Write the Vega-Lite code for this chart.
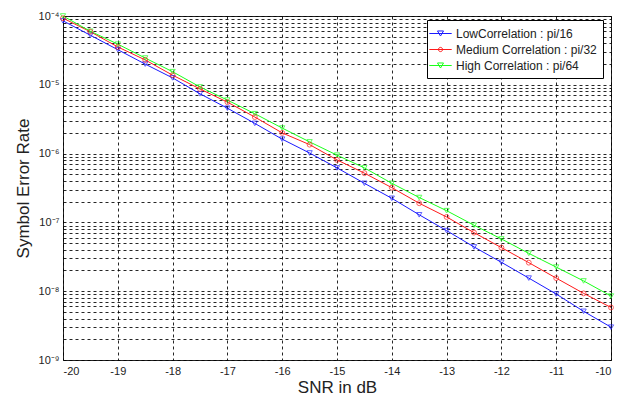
{
  "$schema": "https://vega.github.io/schema/vega-lite/v6.json",
  "width": 548,
  "height": 344,
  "autosize": "none",
  "padding": {"left": 63, "top": 16, "right": 16, "bottom": 36},
  "background": "white",
  "config": {
    "view": {"stroke": "#222", "strokeWidth": 1},
    "axis": {
      "labelFont": "Liberation Sans", "titleFont": "Liberation Sans",
      "labelFontSize": 11, "titleFontSize": 17, "titleFontWeight": "normal",
      "labelColor": "#222", "titleColor": "#222",
      "grid": true, "gridColor": "#000", "gridDash": [3, 3], "gridWidth": 1, "gridOpacity": 0.85,
      "ticks": false, "domain": false, "labelOverlap": false
    }
  },
  "data": {"values": [
    {"snr": -20, "low": 8.5e-5, "med": 9.3e-5, "high": 1.0e-4},
    {"snr": -19.5, "low": 5.25e-5, "med": 5.9e-5, "high": 6.0e-5},
    {"snr": -19, "low": 3.24e-5, "med": 3.55e-5, "high": 3.9e-5},
    {"snr": -18.5, "low": 2.0e-5, "med": 2.3e-5, "high": 2.45e-5},
    {"snr": -18, "low": 1.26e-5, "med": 1.38e-5, "high": 1.55e-5},
    {"snr": -17.5, "low": 7.4e-6, "med": 8.7e-6, "high": 9.3e-6},
    {"snr": -17, "low": 4.57e-6, "med": 5.6e-6, "high": 6.0e-6},
    {"snr": -16.5, "low": 2.75e-6, "med": 3.4e-6, "high": 3.8e-6},
    {"snr": -16, "low": 1.62e-6, "med": 2.0e-6, "high": 2.35e-6},
    {"snr": -15.5, "low": 1.02e-6, "med": 1.35e-6, "high": 1.48e-6},
    {"snr": -15, "low": 6.2e-7, "med": 8.1e-7, "high": 9.5e-7},
    {"snr": -14.5, "low": 3.7e-7, "med": 5.2e-7, "high": 6.2e-7},
    {"snr": -14, "low": 2.24e-7, "med": 3.2e-7, "high": 3.7e-7},
    {"snr": -13.5, "low": 1.29e-7, "med": 1.9e-7, "high": 2.3e-7},
    {"snr": -13, "low": 7.6e-8, "med": 1.2e-7, "high": 1.48e-7},
    {"snr": -12.5, "low": 4.4e-8, "med": 7.1e-8, "high": 9.1e-8},
    {"snr": -12, "low": 2.63e-8, "med": 4.3e-8, "high": 5.75e-8},
    {"snr": -11.5, "low": 1.55e-8, "med": 2.6e-8, "high": 3.55e-8},
    {"snr": -11, "low": 9.1e-9, "med": 1.55e-8, "high": 2.24e-8},
    {"snr": -10.5, "low": 5.1e-9, "med": 9.3e-9, "high": 1.41e-8},
    {"snr": -10, "low": 3.0e-9, "med": 5.8e-9, "high": 8.5e-9}
  ]},
  "transform": [{"fold": ["low", "med", "high"], "as": ["series", "ser"]}],
  "layer": [
    {
      "mark": {"type": "line", "strokeWidth": 1, "clip": true},
      "encoding": {
        "x": {"field": "snr", "type": "quantitative",
          "scale": {"domain": [-20, -10], "nice": false, "zero": false},
          "axis": {"values": [-20, -19, -18, -17, -16, -15, -14, -13, -12, -11, -10],
            "title": "SNR in dB", "labelExpr": "'' + datum.value", "labelPadding": 5, "titlePadding": 3}},
        "y": {"field": "ser", "type": "quantitative",
          "scale": {"type": "log", "domain": [1e-9, 1e-4], "nice": false},
          "axis": {"values": [1e-9, 2e-9, 3e-9, 4e-9, 5e-9, 6e-9, 7e-9, 8e-9, 9e-9,
              1e-8, 2e-8, 3e-8, 4e-8, 5e-8, 6e-8, 7e-8, 8e-8, 9e-8,
              1e-7, 2e-7, 3e-7, 4e-7, 5e-7, 6e-7, 7e-7, 8e-7, 9e-7,
              1e-6, 2e-6, 3e-6, 4e-6, 5e-6, 6e-6, 7e-6, 8e-6, 9e-6,
              1e-5, 2e-5, 3e-5, 4e-5, 5e-5, 6e-5, 7e-5, 8e-5, 9e-5, 1e-4],
            "title": "Symbol Error Rate", "titlePadding": 6, "labelPadding": 4,
            "labelExpr": "abs(log(datum.value)/LN10 - round(log(datum.value)/LN10)) < 0.01 ? ['10⁻⁹','10⁻⁸','10⁻⁷','10⁻⁶','10⁻⁵','10⁻⁴'][round(log(datum.value)/LN10)+9] : ''"}},
        "color": {"field": "series", "type": "nominal",
          "scale": {"domain": ["low", "med", "high"], "range": ["#1a1aff", "#ff1a1a", "#1aff1a"]},
          "legend": {
            "title": null, "orient": "none", "legendX": 364, "legendY": 4, "direction": "vertical",
            "fillColor": "white", "strokeColor": "#000", "padding": 6,
            "labelFont": "Liberation Sans", "labelFontSize": 12, "labelColor": "#222",
            "symbolType": "M-1.6,0H1.6M-0.43,-0.36L0.43,-0.36L0,0.36Z",
            "symbolSize": 196, "symbolStrokeWidth": 1, "symbolFillColor": "transparent",
            "rowPadding": 2, "labelOffset": 8,
            "labelExpr": "datum.value == 'low' ? 'LowCorrelation : pi/16' : datum.value == 'med' ? 'Medium Correlation : pi/32' : 'High Correlation : pi/64'",
            "encode": {"symbols": {"update": {"shape": {"signal": "datum.value == 'med' ? 'M-1.6,0H1.6M0.3,0A0.3,0.3 0 1,1 -0.3,0A0.3,0.3 0 1,1 0.3,0' : 'M-1.6,0H1.6M-0.43,-0.36L0.43,-0.36L0,0.36Z'"}}}}
          }}
      }
    },
    {
      "transform": [{"filter": "datum.series != 'med'"}],
      "mark": {"type": "point", "filled": false, "size": 28, "strokeWidth": 1, "shape": "triangle-down"},
      "encoding": {
        "x": {"field": "snr", "type": "quantitative"},
        "y": {"field": "ser", "type": "quantitative"},
        "color": {"field": "series", "type": "nominal"}
      }
    },
    {
      "transform": [{"filter": "datum.series == 'med'"}],
      "mark": {"type": "point", "filled": false, "size": 24, "strokeWidth": 1, "shape": "circle"},
      "encoding": {
        "x": {"field": "snr", "type": "quantitative"},
        "y": {"field": "ser", "type": "quantitative"},
        "color": {"field": "series", "type": "nominal"}
      }
    }
  ]
}
